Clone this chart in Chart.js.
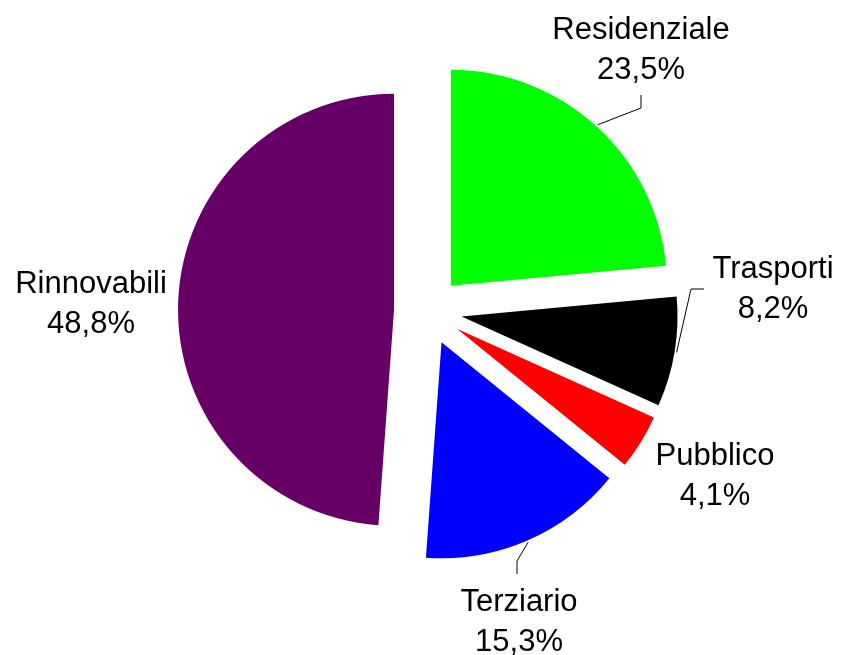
<!DOCTYPE html>
<html>
<head>
<meta charset="utf-8">
<script src="https://cdn.jsdelivr.net/npm/chart.js@4/dist/chart.umd.min.js"></script>
<style>
  html, body { margin: 0; padding: 0; background: #ffffff; }
  canvas { display: block; }
</style>
</head>
<body>
<canvas id="c" width="842" height="655"></canvas>
<script>
// ---- Data ----
const categories = ['Residenziale', 'Trasporti', 'Pubblico', 'Terziario', 'Rinnovabili'];
const shares = [23.5, 8.2, 4.1, 15.3, 48.8];
const sliceColors = ['#00FF00', '#000000', '#FF0000', '#0000FF', '#660066'];

// ---- Layout / style (not data) ----
const EXPLODE = 34;          // px every slice is pulled out from the centre
const PIE_RADIUS = 216;
const FONT = '31px "Liberation Sans", Arial, sans-serif';
const LINE_H = 40;
// label centre x, first-line baseline y, optional leader [elbowX, elbowY, endX, endY]
const labelLayout = [
  { x: 641, y: 39,  leader: [641, 108, 641, 95] },
  { x: 773, y: 278, leader: [691, 289, 704, 289] },
  { x: 715, y: 465, leader: null },
  { x: 519, y: 611, leader: [517, 561, 517, 574] },
  { x: 91,  y: 293, leader: null }
];

const fmt = v => v.toFixed(1).replace('.', ',') + '%';

const explodePlugin = {
  id: 'explode',
  afterDatasetUpdate(chart, args) {
    args.meta.data.forEach(arc => {
      const mid = (arc.startAngle + arc.endAngle) / 2;
      arc.x += Math.cos(mid) * EXPLODE;
      arc.y += Math.sin(mid) * EXPLODE;
    });
  }
};

const labelPlugin = {
  id: 'sliceLabels',
  afterDraw(chart) {
    const ctx = chart.ctx;
    const arcs = chart.getDatasetMeta(0).data;
    ctx.save();
    ctx.font = FONT;
    ctx.fillStyle = '#000000';
    ctx.textAlign = 'center';
    ctx.textBaseline = 'alphabetic';
    arcs.forEach((arc, i) => {
      const lay = labelLayout[i];
      if (lay.leader) {
        const mid = (arc.startAngle + arc.endAngle) / 2;
        const sx = arc.x + Math.cos(mid) * (arc.outerRadius + 2);
        const sy = arc.y + Math.sin(mid) * (arc.outerRadius + 2);
        ctx.beginPath();
        ctx.strokeStyle = '#000000';
        ctx.lineWidth = 1;
        ctx.moveTo(sx, sy);
        ctx.lineTo(lay.leader[0], lay.leader[1]);
        ctx.lineTo(lay.leader[2], lay.leader[3]);
        ctx.stroke();
      }
      ctx.fillText(categories[i], lay.x, lay.y);
      ctx.fillText(fmt(shares[i]), lay.x, lay.y + LINE_H);
    });
    ctx.restore();
  }
};

new Chart(document.getElementById('c'), {
  type: 'pie',
  data: {
    labels: categories,
    datasets: [{
      data: shares,
      backgroundColor: sliceColors,
      borderWidth: 0,
      offset: 0,
      radius: PIE_RADIUS
    }]
  },
  options: {
    responsive: false,
    animation: false,
    devicePixelRatio: 1,
    events: [],
    layout: { padding: { left: 14, right: 0, top: 0, bottom: 33 } },
    plugins: {
      legend: { display: false },
      tooltip: { enabled: false },
      title: { display: false }
    }
  },
  plugins: [explodePlugin, labelPlugin]
});
</script>
</body>
</html>
